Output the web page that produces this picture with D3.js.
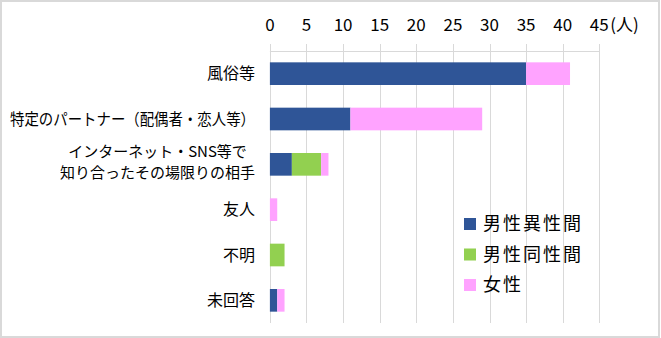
<!DOCTYPE html>
<meta charset="utf-8">
<style>
body { margin: 0; }
svg text { font-family: "Noto Sans CJK JP", "Noto Sans", sans-serif; fill: #000; }
</style>
<svg id="chart" width="661" height="338"></svg>
<script src="https://cdn.jsdelivr.net/npm/d3@7"></script>
<script>
// categories (a line break is kept as an array of lines)
var categories = ["風俗等", "特定のパートナー（配偶者・恋人等）", "インターネット・SNS等で\n知り合ったその場限りの相手", "友人", "不明", "未回答"];
var seriesNames = ["男性異性間", "男性同性間", "女性"];
var maleHetero = [35, 11, 3, 0, 0, 1];
var maleHomo = [0, 0, 4, 0, 2, 0];
var female = [6, 18, 1, 1, 0, 1];
var ticks = [0, 5, 10, 15, 20, 25, 30, 35, 40, 45];
var unitLabel = "(人)";

var colors = ["#2F5597", "#92D050", "#FFA3FF"];

var svg = d3.select("#chart");

svg.append("rect")
  .attr("x", 1).attr("y", 1)
  .attr("width", 658).attr("height", 336)
  .attr("fill", "#fff")
  .attr("stroke", "#d9d9d9")
  .attr("stroke-width", 2);

var x = d3.scaleLinear().domain([0, 45]).range([269.9, 599.3]);
var y = d3.scaleBand().domain(categories).range([51, 323]).paddingInner(0.5).paddingOuter(0.25);

// gridlines
svg.append("g").selectAll("line")
  .data(ticks)
  .enter().append("line")
  .attr("x1", function(d) { return Math.round(x(d)) + 0.5; })
  .attr("x2", function(d) { return Math.round(x(d)) + 0.5; })
  .attr("y1", 44).attr("y2", 323)
  .attr("stroke", "#d9d9d9").attr("stroke-width", 1);

svg.append("line")
  .attr("x1", x(0)).attr("x2", x(45))
  .attr("y1", 51.5).attr("y2", 51.5)
  .attr("stroke", "#d9d9d9");

// tick labels
svg.append("g").selectAll("text")
  .data(ticks)
  .enter().append("text")
  .attr("x", function(d) { return x(d); })
  .attr("y", 31)
  .attr("text-anchor", "middle")
  .style("font-size", "17px")
  .text(function(d) { return d; });

svg.append("text")
  .attr("x", x(45) + 11)
  .attr("y", 31)
  .style("font-size", "17px")
  .text(unitLabel);

// stacked bars
var rows = categories.map(function(c, i) {
  return { cat: c, v: [maleHetero[i], maleHomo[i], female[i]] };
});

var bar = svg.append("g").selectAll("g")
  .data(rows)
  .enter().append("g");

bar.each(function(d) {
  var g = d3.select(this);
  var start = 0;
  d.v.forEach(function(v, k) {
    if (v > 0) {
      g.append("rect")
        .attr("x", x(start))
        .attr("y", y(d.cat))
        .attr("width", x(start + v) - x(start))
        .attr("height", y.bandwidth())
        .attr("fill", colors[k]);
    }
    start += v;
  });
});

// category labels
var labelRight = 255;
categories.forEach(function(c) {
  var lines = c.split("\n");
  var cy = y(c) + y.bandwidth() / 2;
  if (lines.length == 1) {
    var t = svg.append("text")
      .style("font-size", "16px")
      .attr("x", labelRight).attr("y", cy)
      .attr("text-anchor", "end").attr("dy", "0.35em").text(c);
    var w = t.node().getComputedTextLength();
    if (w > 245) t.attr("textLength", 245).attr("lengthAdjust", "spacingAndGlyphs");
  } else {
    var ts = lines.map(function(l, i) {
      return svg.append("text")
        .style("font-size", "15px")
        .attr("y", cy + (i == 0 ? -7 : 14))
        .attr("text-anchor", "middle")
        .text(l);
    });
    var maxW = d3.max(ts, function(s) { return s.node().getComputedTextLength(); });
    ts.forEach(function(s) { s.attr("x", labelRight - maxW / 2); });
  }
});

// legend
var legend = svg.append("g").selectAll("g")
  .data(seriesNames)
  .enter().append("g")
  .attr("transform", function(d, i) { return "translate(464," + (218 + i * 30.5) + ")"; });

legend.append("rect")
  .attr("width", 12).attr("height", 12)
  .attr("fill", function(d, i) { return colors[i]; });

legend.append("text")
  .attr("x", 19).attr("y", 6)
  .attr("dy", "0.35em")
  .style("font-size", "18px")
  .style("letter-spacing", "2px")
  .text(function(d) { return d; });
</script>
